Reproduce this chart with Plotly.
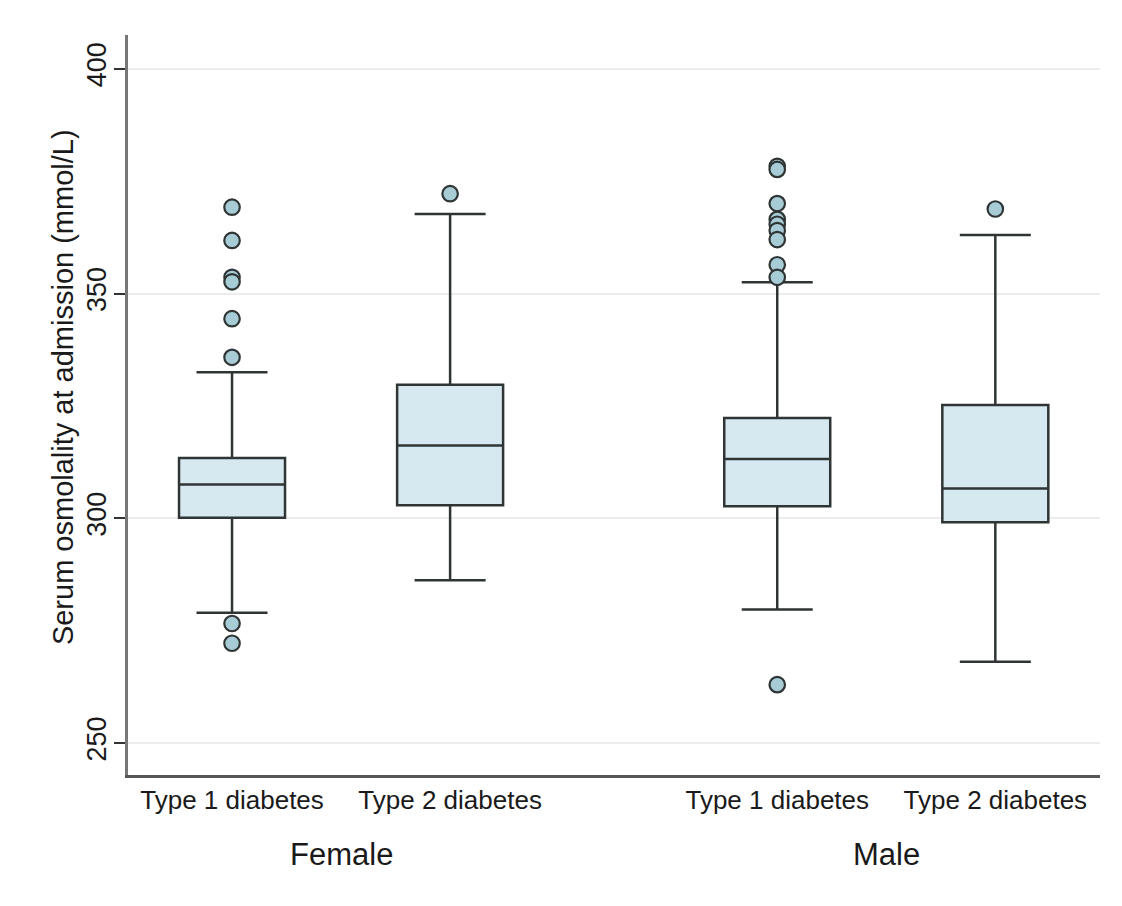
import plotly.graph_objects as go

# ---- data ----
groups = ["Female", "Female", "Male", "Male"]
types = ["Type 1 diabetes", "Type 2 diabetes", "Type 1 diabetes", "Type 2 diabetes"]
positions = [1, 2, 3.5, 4.5]

q1_vals = [300.1, 302.9, 302.7, 299.1]
median_vals = [307.5, 316.2, 313.2, 306.6]
q3_vals = [313.4, 329.7, 322.3, 325.2]
lower_whisker = [279.0, 286.2, 279.7, 268.1]
upper_whisker = [332.5, 367.7, 352.5, 363.0]

outliers_f_t1 = [369.2, 361.8, 353.6, 352.6, 344.4, 335.8, 276.6, 272.2]
outliers_f_t2 = [372.2]
outliers_m_t1 = [378.3, 377.6, 370.0, 366.5, 365.4, 364.0, 362.0, 356.4, 353.6, 263.0]
outliers_m_t2 = [368.8]
outliers = [outliers_f_t1, outliers_f_t2, outliers_m_t1, outliers_m_t2]

group_labels = ["Female", "Male"]
group_centers = [1.5, 4.0]

y_ticks = [250, 300, 350, 400]

# ---- styling ----
BOX_FILL = "#d6e9f0"
LINE = "#2f3535"
MARK_FILL = "#a8ccd5"
FONT = "Liberation Sans, Arial, sans-serif"

fig = go.Figure()

for i in range(len(positions)):
    fig.add_trace(go.Box(
        x=[positions[i]],
        q1=[q1_vals[i]], median=[median_vals[i]], q3=[q3_vals[i]],
        lowerfence=[lower_whisker[i]], upperfence=[upper_whisker[i]],
        width=0.486, whiskerwidth=0.67,
        fillcolor=BOX_FILL,
        line=dict(color=LINE, width=2.5),
        boxpoints=False, showlegend=False, hoverinfo="skip",
    ))
    fig.add_trace(go.Scatter(
        x=[positions[i]] * len(outliers[i]), y=outliers[i],
        mode="markers",
        marker=dict(size=15.5, color=MARK_FILL, line=dict(color=LINE, width=2.2)),
        showlegend=False, hoverinfo="skip",
    ))

fig.update_layout(
    width=1122, height=906,
    margin=dict(l=120, r=30, t=27, b=139),
    paper_bgcolor="white", plot_bgcolor="white",
    font=dict(family=FONT, color="#1a1a1a"),
    showlegend=False,
)

fig.update_xaxes(
    range=[0.523, 4.98],
    tickmode="array", tickvals=positions, ticktext=types,
    tickfont=dict(size=26, family=FONT, color="#1a1a1a"),
    showgrid=False, zeroline=False,
    showline=True, linecolor="#555555", linewidth=2.5,
    ticks="", ticklen=0,
)

fig.update_yaxes(
    range=[242.9, 407.5],
    tickmode="array", tickvals=y_ticks,
    tickangle=-90,
    tickfont=dict(size=27, family=FONT, color="#1a1a1a"),
    ticklabelstandoff=-3,
    showgrid=True, gridcolor="#ececec", gridwidth=1.5,
    zeroline=False,
    showline=True, linecolor="#777777", linewidth=3,
    ticks="outside", ticklen=11, tickwidth=1.5, tickcolor="#333333",
)

fig.add_annotation(
    text="Serum osmolality at admission (mmol/L)",
    xref="paper", yref="paper", x=-0.067, y=0.524,
    textangle=-90, showarrow=False,
    font=dict(size=29, family=FONT, color="#1a1a1a"),
    xanchor="center", yanchor="middle",
)

for lbl, cx in zip(group_labels, group_centers):
    fig.add_annotation(
        text=lbl, xref="x", yref="paper", x=cx, y=-0.108,
        showarrow=False, xanchor="center", yanchor="middle",
        font=dict(size=31, family=FONT, color="#1a1a1a"),
    )

fig.write_html("out.html")
